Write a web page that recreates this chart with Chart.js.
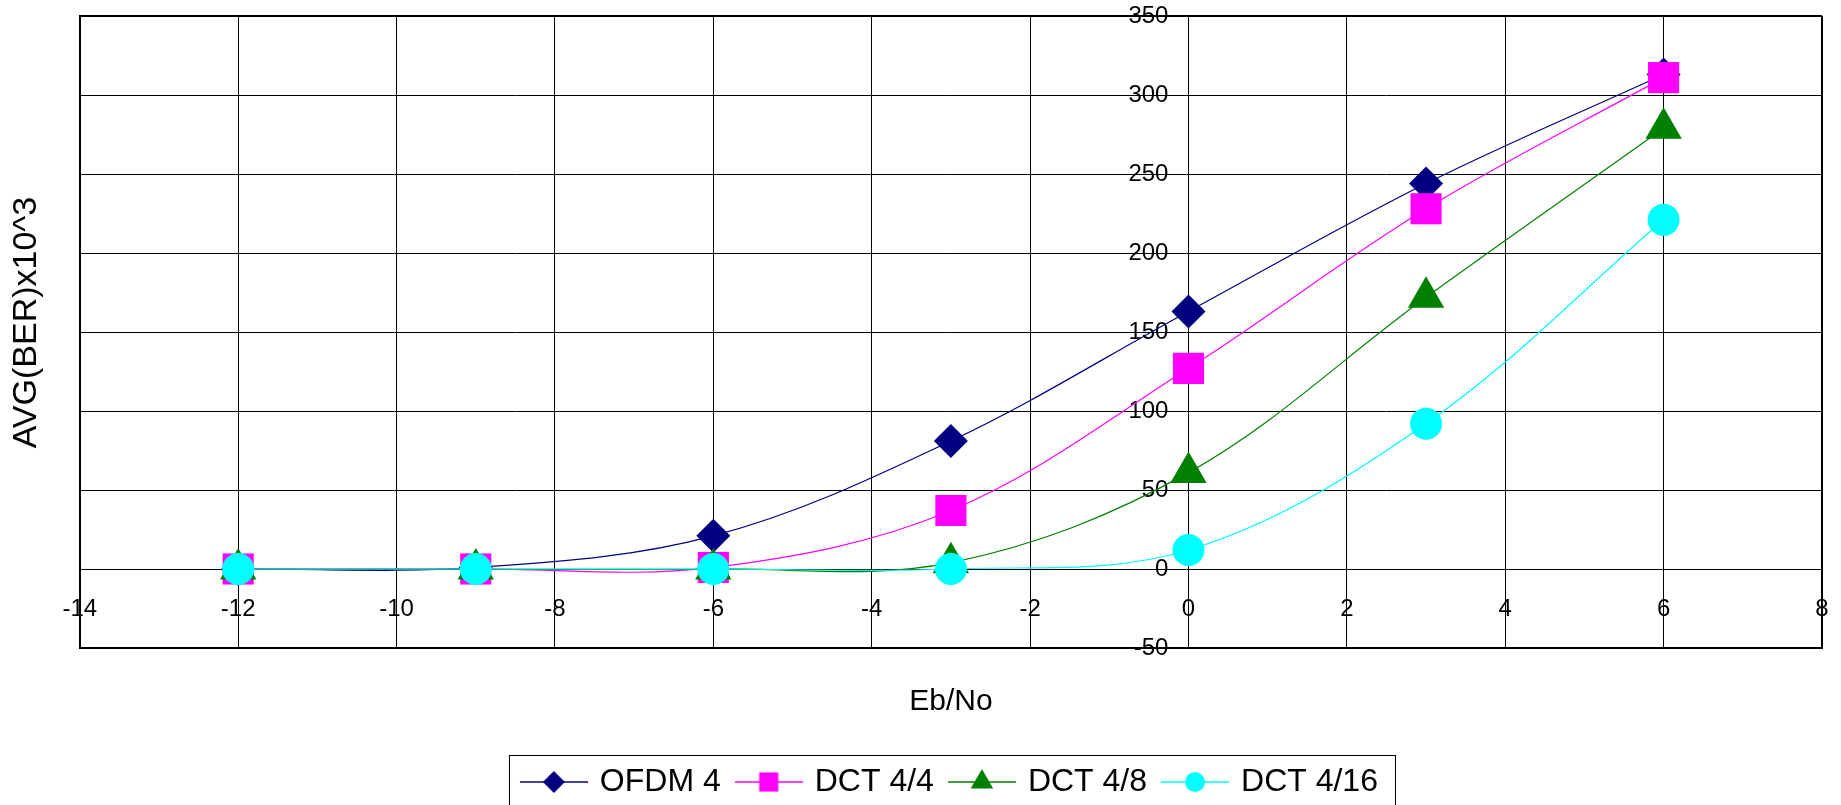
<!DOCTYPE html>
<html>
<head>
<meta charset="utf-8">
<script src="https://cdn.jsdelivr.net/npm/chart.js@4.4.1/dist/chart.umd.min.js"></script>
<style>
  html, body { margin: 0; padding: 0; background: #fff; }
</style>
</head>
<body>
<canvas id="ber" width="1841" height="805"></canvas>
<script>
// Eb/No points where the BER was measured
const ebNo = [-12, -9, -6, -3, 0, 3, 6];

// AVG(BER) x 10^3
const ofdm4 = [0, 1, 21, 81, 163, 244, 313];
const dct44 = [0, 0, 1, 37, 127, 228, 311];
const dct48 = [0, 0, 0, 4, 61, 172, 279];
const dct416 = [0, 0, 0, 0, 12, 92, 221];

const seriesNames = ['OFDM 4', 'DCT 4/4', 'DCT 4/8', 'DCT 4/16'];
const seriesValues = [ofdm4, dct44, dct48, dct416];

// tick labels
const xTicks = [-14, -12, -10, -8, -6, -4, -2, 0, 2, 4, 6, 8];
const yTicks = [-50, 0, 50, 100, 150, 200, 250, 300, 350];

// styles
const colors = ['#000080', '#ff00ff', '#008000', '#00ffff'];
const markers = ['rectRot', 'rect', 'triangle', 'circle'];
const markerSize = [17, 22, 21, 16];
const legendMarkerSize = [11, 13.5, 13, 10];

const FONT = '"Liberation Sans", Arial, sans-serif';

function makeSample(i) {
  const c = document.createElement('canvas');
  c.width = 68;
  c.height = 30;
  const g = c.getContext('2d');
  g.strokeStyle = colors[i];
  g.lineWidth = 1.5;
  g.beginPath();
  g.moveTo(0, 15);
  g.lineTo(68, 15);
  g.stroke();
  g.fillStyle = colors[i];
  Chart.helpers.drawPoint(g, {pointStyle: markers[i], radius: legendMarkerSize[i], borderWidth: 0}, 34, 15);
  return c;
}
const samples = seriesNames.map((n, i) => makeSample(i));

const edgeWidth = (min, max) => c => (c.tick && (c.tick.value === min || c.tick.value === max)) ? 2 : 1;
// positioned axes should not push the plot area in for label overhang
const noPadding = s => { s.paddingTop = s.paddingBottom = s.paddingLeft = s.paddingRight = 0; };

const legendFrame = {
  id: 'legendFrame',
  afterDraw(chart) {
    const lg = chart.legend;
    const boxes = lg.legendHitBoxes;
    if (!boxes || !boxes.length) return;
    const first = boxes[0];
    const last = boxes[boxes.length - 1];
    const ctx = chart.ctx;
    const left = Math.round(first.left - 15) + 0.5;
    const right = Math.round(last.left + last.width + 17) + 0.5;
    const top = Math.round(first.top + first.height / 2 - 27) + 0.5;
    ctx.save();
    ctx.strokeStyle = '#000';
    ctx.lineWidth = 1;
    ctx.strokeRect(left, top, right - left, 100);
    ctx.restore();
  }
};

const ctx = document.getElementById('ber').getContext('2d');
new Chart(ctx, {
  type: 'line',
  data: {
    datasets: seriesValues.map((vals, i) => ({
      label: seriesNames[i],
      data: vals.map((v, j) => ({x: ebNo[j], y: v})),
      borderColor: colors[i],
      backgroundColor: colors[i],
      borderWidth: 1.2,
      pointStyle: markers[i],
      pointRadius: markerSize[i],
      pointHoverRadius: markerSize[i],
      pointBorderWidth: 0,
      tension: 0.35,
      fill: false,
      order: seriesNames.length - i,
      clip: false
    }))
  },
  options: {
    responsive: false,
    animation: false,
    layout: {autoPadding: false, padding: {top: 16, right: 19, left: 0, bottom: -3}},
    scales: {
      x: {
        type: 'linear',
        min: -14,
        max: 8,
        position: {y: 0},
        afterBuildTicks: s => { s.ticks = xTicks.map(v => ({value: v})); },
        afterFit: noPadding,
        grid: {color: '#000', lineWidth: edgeWidth(-14, 8), drawTicks: false},
        border: {display: true, color: '#000', width: 1},
        ticks: {padding: 26, color: '#000', autoSkip: false, maxRotation: 0, font: {family: FONT, size: 24}}
      },
      y: {
        type: 'linear',
        min: -50,
        max: 350,
        position: {x: 0},
        afterBuildTicks: s => { s.ticks = yTicks.map(v => ({value: v})); },
        afterFit: noPadding,
        grid: {color: '#000', lineWidth: edgeWidth(-50, 350), drawTicks: false},
        border: {display: true, color: '#000', width: 1},
        ticks: {
          color: '#000',
          autoSkip: false,
          font: {family: FONT, size: 24},
          // labels sit left of the axis line that crosses at x = 0
          callback: v => v + '   '
        }
      },
      xTitle: {
        type: 'linear',
        min: -14,
        max: 8,
        position: 'bottom',
        grid: {display: false, drawTicks: false},
        ticks: {display: false},
        border: {display: true, color: '#000', width: 2},
        title: {display: true, text: 'Eb/No', color: '#000', font: {family: FONT, size: 30}, padding: {top: 36, bottom: 28}}
      },
      yTitle: {
        type: 'linear',
        min: -50,
        max: 350,
        position: 'left',
        grid: {display: false, drawTicks: false},
        ticks: {display: false},
        border: {display: true, color: '#000', width: 2},
        // leading spaces nudge the rotated title a little up
        title: {display: true, text: '  AVG(BER)x10^3', color: '#000', font: {family: FONT, size: 34}, padding: {top: 6, bottom: 33}}
      }
    },
    plugins: {
      tooltip: {enabled: false},
      legend: {
        position: 'bottom',
        fullSize: false,
        labels: {
          usePointStyle: true,
          pointStyleWidth: 60,
          padding: 18,
          color: '#000',
          font: {family: FONT, size: 32},
          sort: (a, b) => a.datasetIndex - b.datasetIndex,
          generateLabels: chart => Chart.defaults.plugins.legend.labels.generateLabels(chart)
            .map(item => Object.assign(item, {pointStyle: samples[item.datasetIndex]}))
        }
      }
    }
  },
  plugins: [legendFrame]
});
</script>
</body>
</html>
